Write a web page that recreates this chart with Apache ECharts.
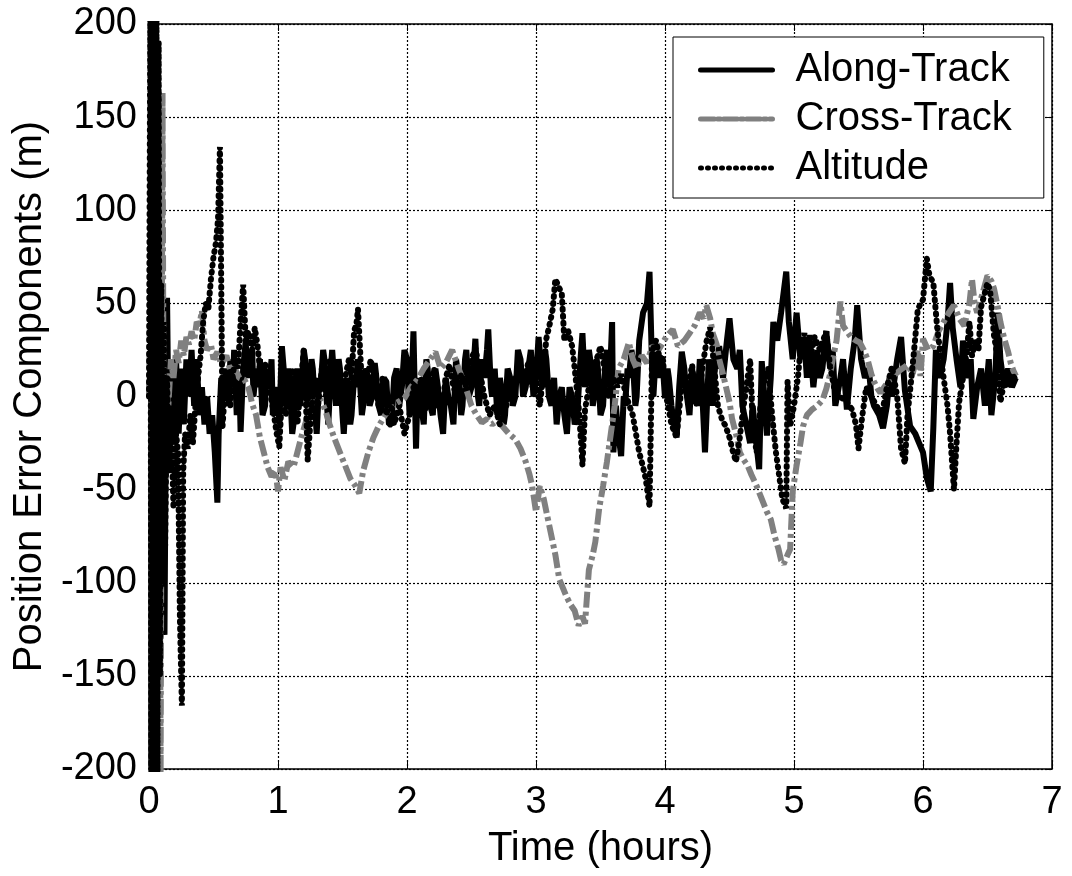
<!DOCTYPE html>
<html>
<head>
<meta charset="utf-8">
<script src="https://cdn.jsdelivr.net/npm/echarts@6/dist/echarts.min.js"></script>
<style>
html,body{margin:0;padding:0;background:#fff;}
#chart{width:1072px;height:876px;}
</style>
</head>
<body>
<div id="chart"></div>
<script>
// ---- Data (time in hours, error in metres) ----
var seriesNames = ['Along-Track', 'Cross-Track', 'Altitude'];
var xTicks = [0, 1, 2, 3, 4, 5, 6, 7];
var yTicks = [-200, -150, -100, -50, 0, 50, 100, 150, 200];

var alongTrack = [
[0.00,0],[0.02,30],[0.04,-60],[0.06,20],[0.08,-100],[0.10,-125],[0.11,-80],[0.12,-128],[0.13,-20],[0.14,53],[0.15,-10],[0.16,-30],[0.18,10],[0.19,-25],[0.21,20],[0.23,-20],[0.25,15],[0.27,-15],[0.29,20],[0.31,0],[0.33,25],[0.35,-5],[0.37,20],[0.39,-10],[0.41,5],[0.43,-15],[0.45,0],[0.47,-20],[0.49,-10],[0.51,-30],[0.53,-57],[0.54,-20],[0.56,10],[0.58,0],
[0.60,15],[0.62,-5],[0.63,20],[0.65,5],[0.66,25],[0.68,-10],[0.70,10],[0.71,-19],[0.73,15],[0.75,30],[0.76,10],[0.78,20],[0.80,25],[0.81,0],[0.83,15],[0.85,5],[0.86,20],[0.88,-10],[0.90,-5],[0.91,15],[0.93,5],[0.95,20],[0.96,-10],[0.98,0],[1.00,5],[1.01,-15],[1.03,27],[1.05,10],[1.06,-5],[1.08,15],[1.09,10],[1.11,-20],[1.12,-15],[1.14,10],[1.15,15],[1.17,-5],[1.18,0],[1.20,25],[1.21,20],[1.23,-5],[1.24,-10],[1.26,20],[1.27,15],[1.29,-10],[1.30,-20],[1.32,10],[1.33,5],[1.35,25],[1.36,20],[1.38,-5],[1.39,-15],[1.41,15],[1.42,25],[1.44,5],[1.45,-5],[1.47,20],[1.48,15],[1.50,-10],[1.51,-20],[1.53,5],[1.54,10],[1.56,-15],[1.57,-10],[1.59,10],[1.60,5],[1.62,20],[1.63,15],[1.65,-10],[1.66,-5],[1.68,15],[1.70,10],[1.71,-5],[1.73,0],[1.75,18],[1.76,12],[1.78,-5],[1.80,-10],[1.82,10],[1.84,8],[1.86,-15],[1.88,-15],[1.90,10],[1.92,15],[1.94,-5],[1.96,5],[1.98,25],[2.00,20],[2.02,-10],[2.03,-5],[2.05,35],[2.07,-28],[2.08,0],[2.10,10],[2.12,-10],[2.13,-15],[2.15,20],[2.16,15],[2.18,-5],[2.20,-10],[2.22,15],[2.24,5],[2.26,-10],[2.28,-20],[2.30,10],[2.32,0],[2.34,-5],[2.36,-15],[2.38,20],[2.40,10],[2.42,-10],[2.43,-5],[2.45,20],[2.46,25],[2.48,0],[2.50,5],[2.52,20],[2.53,31],[2.55,0],[2.56,-5],[2.58,20],[2.60,10],[2.62,25],[2.63,36],[2.65,5],[2.66,0],[2.68,15],[2.70,-10],[2.72,10],[2.73,5],[2.75,-15],[2.76,-10],[2.78,15],[2.80,10],[2.82,-5],[2.84,0],[2.86,25],[2.88,20],[2.90,0],[2.92,5],[2.94,15],[2.96,25],[2.98,0],[3.00,10],
[3.02,32],[3.04,15],[3.05,5],[3.07,25],[3.08,20],[3.10,0],[3.12,-5],[3.14,10],[3.16,-15],[3.18,0],[3.20,5],[3.22,-10],[3.24,-20],[3.26,5],[3.28,0],[3.30,-15],[3.32,-10],[3.34,15],[3.36,34],[3.38,5],[3.39,10],[3.41,25],[3.42,20],[3.44,-5],[3.45,0],[3.47,20],[3.48,15],[3.50,-10],[3.52,-5],[3.54,20],[3.55,25],[3.57,5],[3.59,40],[3.60,-30],[3.62,-5],[3.63,-15],[3.66,-32],[3.68,0],[3.69,-5],[3.71,15],[3.72,10],[3.74,25],[3.75,20],[3.77,-5],[3.78,0],[3.80,30],[3.83,45],[3.86,50],[3.88,67],[3.90,15],[3.91,0],[3.93,24],[3.96,10],[3.98,20],[4.00,-1],[4.02,15],[4.03,10],[4.05,-5],[4.06,-10],[4.09,-22],[4.11,5],[4.13,24],[4.15,15],[4.16,5],[4.18,-5],[4.19,-10],[4.21,15],[4.22,10],[4.24,0],[4.25,-5],[4.27,20],[4.28,15],[4.31,-30],[4.34,20],[4.36,5],[4.37,-5],[4.39,20],[4.40,15],[4.42,27],[4.45,10],[4.48,30],[4.50,42],[4.53,20],[4.56,15],[4.58,25],[4.60,-5],[4.63,-15],[4.66,-25],[4.68,-5],[4.70,-20],[4.73,-39],[4.75,19],[4.77,0],[4.79,-21],[4.82,10],[4.84,40],[4.87,30],[4.90,45],[4.94,67],[4.96,40],[4.99,20],[5.02,45],[5.05,20],[5.08,30],[5.10,10],[5.12,33],[5.15,5],[5.18,25],[5.20,10],[5.22,15],[5.25,35],[5.28,15],[5.30,25],[5.32,-5],[5.36,10],[5.38,20],[5.41,-7],[5.44,15],[5.47,30],[5.49,49],[5.52,20],[5.55,10],[5.58,15],[5.60,0],[5.62,-5],[5.66,-10],[5.69,-17],[5.72,-5],[5.74,10],[5.76,0],[5.80,20],[5.83,32],[5.86,3],[5.90,-16],[5.94,-20],[5.97,-25],[6.00,-30],[6.03,-44],[6.06,-51],[6.08,-17],[6.10,25],[6.13,10],[6.16,20],[6.19,40],[6.21,61],[6.23,37],[6.26,20],[6.29,5],[6.31,30],[6.34,10],[6.37,20],[6.39,-12],[6.42,5],[6.45,15],[6.48,-5],[6.51,20],[6.53,-10],[6.56,10],[6.58,45],[6.60,20],[6.63,5],[6.66,15],[6.69,5],[6.72,10]
];

var crossTrack = [
[0.00,0],[0.02,120],[0.03,-205],[0.045,150],[0.06,-205],[0.075,140],[0.09,-205],[0.105,163],[0.115,-60],[0.13,10],[0.15,-5],[0.17,20],[0.19,10],[0.21,25],[0.23,18],[0.25,30],[0.27,22],[0.29,32],[0.31,28],[0.33,35],[0.35,30],[0.37,40],[0.39,38],[0.41,46],[0.43,30],[0.45,25],[0.48,28],[0.50,20],[0.53,24],[0.56,17],[0.60,22],[0.63,14],[0.66,16],[0.70,10],[0.74,9],[0.77,5],[0.80,-4],[0.83,-10],[0.86,-22],[0.89,-30],[0.92,-38],[0.95,-43],[0.98,-40],[1.00,-51],[1.02,-38],[1.05,-45],[1.08,-35],[1.12,-38],[1.15,-30],[1.18,-22],[1.21,-15],[1.25,-5],[1.28,-2],[1.31,0],[1.34,-3],[1.37,-8],[1.40,-15],[1.44,-23],[1.48,-30],[1.52,-37],[1.56,-44],[1.60,-48],[1.63,-52],[1.66,-40],[1.70,-30],[1.74,-22],[1.78,-16],[1.83,-10],[1.88,-5],[1.93,-3],[1.98,-1],[2.03,5],[2.08,9],[2.13,15],[2.18,20],[2.22,24],[2.26,15],[2.30,18],[2.35,25],[2.40,15],[2.45,6],[2.50,-5],[2.54,-10],[2.58,-14],[2.62,-12],[2.66,-15],[2.70,-13],[2.74,-16],[2.79,-20],[2.84,-23],[2.88,-28],[2.92,-35],[2.95,-42],[2.97,-48],[3.00,-62],[3.03,-48],[3.06,-55],[3.09,-65],[3.12,-75],[3.15,-85],[3.18,-98],[3.21,-103],[3.24,-108],[3.27,-112],[3.30,-115],[3.33,-123],[3.36,-118],[3.38,-122],[3.41,-93],[3.44,-85],[3.46,-78],[3.49,-60],[3.52,-48],[3.55,-35],[3.58,-20],[3.61,-5],[3.64,15],[3.68,20],[3.72,29],[3.75,20],[3.78,15],[3.82,22],[3.86,18],[3.90,27],[3.95,25],[4.01,32],[4.06,36],[4.10,27],[4.15,30],[4.19,34],[4.23,38],[4.27,45],[4.30,42],[4.32,49],[4.35,42],[4.37,34],[4.40,28],[4.42,20],[4.45,12],[4.47,6],[4.50,-3],[4.52,-12],[4.55,-20],[4.58,-30],[4.61,-34],[4.64,-37],[4.67,-42],[4.71,-48],[4.75,-55],[4.79,-62],[4.82,-66],[4.85,-75],[4.88,-82],[4.90,-88],[4.92,-90],[4.95,-85],[4.97,-82],[4.99,-51],[5.02,-37],[5.05,-25],[5.07,-16],[5.10,-10],[5.14,-7],[5.18,-5],[5.22,-2],[5.25,4],[5.28,12],[5.30,20],[5.33,30],[5.36,51],[5.38,38],[5.41,35],[5.44,32],[5.48,30],[5.51,29],[5.54,25],[5.57,20],[5.60,12],[5.62,8],[5.65,4],[5.67,2],[5.71,6],[5.74,9],[5.77,11],[5.82,14],[5.88,17],[5.92,12],[5.96,25],[5.98,11],[6.00,31],[6.04,25],[6.08,27],[6.12,35],[6.16,40],[6.20,45],[6.24,49],[6.28,42],[6.32,38],[6.36,50],[6.38,63],[6.40,50],[6.42,45],[6.46,55],[6.50,65],[6.53,62],[6.55,58],[6.58,48],[6.60,40],[6.63,31],[6.66,24],[6.68,18],[6.70,14],[6.72,11]
];

var altitude = [
[0.00,0],[0.01,210],[0.018,-210],[0.026,210],[0.034,-210],[0.042,210],[0.05,-210],[0.058,210],[0.066,-205],[0.075,190],[0.085,-150],[0.095,60],[0.105,-100],[0.115,40],[0.125,-80],[0.14,10],[0.155,-40],[0.17,-10],[0.19,-60],[0.21,-20],[0.225,-30],[0.24,-120],[0.255,-166],[0.265,-40],[0.28,-20],[0.30,-28],[0.32,-10],[0.34,-25],[0.36,-5],[0.38,10],[0.40,22],[0.42,40],[0.44,50],[0.46,47],[0.48,63],[0.50,75],[0.52,83],[0.535,95],[0.55,134],[0.56,60],[0.57,-16],[0.59,5],[0.61,10],[0.63,-5],[0.65,12],[0.67,20],[0.69,15],[0.71,40],[0.73,60],[0.75,30],[0.77,35],[0.80,25],[0.82,37],[0.84,28],[0.86,15],[0.88,10],[0.90,18],[0.93,5],[0.96,-6],[0.99,-20],[1.01,-27],[1.03,0],[1.06,-10],[1.09,5],[1.12,15],[1.15,-15],[1.18,10],[1.20,25],[1.22,-10],[1.23,-34],[1.25,-15],[1.28,10],[1.31,-5],[1.34,15],[1.37,0],[1.40,20],[1.43,5],[1.46,15],[1.49,-5],[1.52,10],[1.55,20],[1.57,10],[1.59,35],[1.61,40],[1.62,47],[1.64,20],[1.66,-5],[1.69,10],[1.72,20],[1.75,5],[1.78,-5],[1.81,10],[1.84,-10],[1.87,0],[1.90,-15],[1.94,-5],[1.98,-20],[2.02,-10],[2.05,5],[2.08,-5],[2.11,10],[2.14,-8],[2.18,5],[2.21,15],[2.24,-5],[2.27,-7],[2.30,10],[2.33,17],[2.36,5],[2.39,0],[2.42,12],[2.46,5],[2.50,20],[2.53,26],[2.56,15],[2.60,0],[2.64,-10],[2.68,-5],[2.72,-15],[2.75,-10],[2.79,0],[2.83,8],[2.87,15],[2.91,10],[2.94,18],[2.97,5],[3.00,10],[3.03,-5],[3.06,15],[3.08,31],[3.11,40],[3.13,47],[3.15,63],[3.17,60],[3.20,55],[3.22,30],[3.25,35],[3.28,27],[3.30,15],[3.33,-5],[3.35,-25],[3.36,-37],[3.38,-7],[3.41,5],[3.45,17],[3.48,22],[3.50,27],[3.53,15],[3.56,0],[3.60,10],[3.63,5],[3.66,12],[3.70,0],[3.75,-10],[3.80,-30],[3.83,-38],[3.85,-44],[3.88,-59],[3.90,24],[3.93,30],[3.96,20],[3.98,22],[4.01,0],[4.05,-15],[4.09,-22],[4.12,0],[4.15,12],[4.18,5],[4.21,17],[4.24,-5],[4.27,5],[4.30,20],[4.32,29],[4.35,37],[4.38,17],[4.41,-5],[4.44,-12],[4.47,-16],[4.50,-22],[4.52,-28],[4.55,-35],[4.58,-22],[4.60,-10],[4.63,5],[4.66,20],[4.68,-15],[4.71,-30],[4.74,-5],[4.77,10],[4.80,15],[4.83,-10],[4.86,-30],[4.89,-45],[4.91,-55],[4.94,-60],[4.95,8],[4.97,-16],[5.00,-5],[5.03,10],[5.05,25],[5.08,34],[5.11,20],[5.14,25],[5.16,32],[5.20,25],[5.25,35],[5.28,16],[5.31,5],[5.35,0],[5.40,-2],[5.45,-7],[5.48,-15],[5.50,-28],[5.53,-10],[5.56,5],[5.60,0],[5.64,-5],[5.68,-10],[5.72,5],[5.76,16],[5.80,0],[5.83,-28],[5.86,-36],[5.88,-10],[5.91,10],[5.93,24],[5.96,47],[6.00,52],[6.03,74],[6.05,65],[6.08,61],[6.11,37],[6.14,20],[6.17,5],[6.19,-5],[6.21,-20],[6.24,-50],[6.26,-25],[6.28,-3],[6.31,10],[6.34,24],[6.36,40],[6.38,22],[6.41,30],[6.43,25],[6.45,48],[6.50,61],[6.52,57],[6.55,33],[6.58,20],[6.60,-3],[6.63,8],[6.66,5],[6.69,12],[6.71,10]
];

// ---- Styles ----
var FONT = '"Liberation Sans", Arial, Helvetica, sans-serif';
var styles = [
  {color: '#000', width: 6, type: 'solid', cap: 'butt'},
  {color: '#808080', width: 6, type: [16, 4, 4, 4], cap: 'butt'},
  {color: '#000', width: 6, type: [1, 6], cap: 'round'}
];
var legendStyles = [
  {color: '#000', width: 5, type: 'solid', cap: 'round'},
  {color: '#808080', width: 5, type: [14, 3, 3, 3], cap: 'round'},
  {color: '#000', width: 5, type: [1, 6], cap: 'round'}
];

var chart = echarts.init(document.getElementById('chart'), null, {renderer: 'canvas'});

var gridLine = {show: true, lineStyle: {color: '#000', width: 1.2, type: [2, 2]}};
var axisLine = {show: true, onZero: false, lineStyle: {color: '#000', width: 1.5}};
var tick = {show: true, inside: true, length: 7, lineStyle: {color: '#000', width: 1}};

var option = {
  backgroundColor: '#fff',
  animation: false,
  grid: {left: 149, right: 20, top: 24, bottom: 107, containLabel: false, outerBoundsMode: 'none'},
  legend: {
    orient: 'vertical',
    left: 673, top: 37,
    padding: [13, 32, 10, 25],
    itemWidth: 72, itemHeight: 14, itemGap: 9,
    backgroundColor: '#fff',
    borderColor: '#000', borderWidth: 1,
    itemStyle: {opacity: 0, color: 'rgba(0,0,0,0)', borderWidth: 0},
    textStyle: {fontFamily: FONT, fontSize: 40, color: '#000', lineHeight: 40, padding: [0, 0, 0, 18]},
    data: seriesNames.map(function (n, i) { return {name: n, lineStyle: legendStyles[i]}; })
  },
  xAxis: [{
    type: 'value', min: xTicks[0], max: xTicks[xTicks.length - 1], interval: 1,
    name: 'Time (hours)', nameLocation: 'middle', nameGap: 60,
    nameTextStyle: {fontFamily: FONT, fontSize: 40, color: '#000'},
    axisLine: axisLine, axisTick: tick, splitLine: gridLine,
    axisLabel: {fontFamily: FONT, fontSize: 38, color: '#000', margin: 15}
  }, {
    type: 'value', position: 'top', min: xTicks[0], max: xTicks[xTicks.length - 1], interval: 1,
    axisLine: axisLine, axisTick: tick, splitLine: {show: false}, axisLabel: {show: false}
  }],
  yAxis: [{
    type: 'value', min: yTicks[0], max: yTicks[yTicks.length - 1], interval: 50,
    name: 'Position Error Components (m)', nameLocation: 'middle', nameGap: 97, nameRotate: 90,
    nameTextStyle: {fontFamily: FONT, fontSize: 40, color: '#000'},
    axisLine: axisLine, axisTick: tick, splitLine: gridLine,
    axisLabel: {fontFamily: FONT, fontSize: 38, color: '#000', margin: 12}
  }, {
    type: 'value', position: 'right', min: yTicks[0], max: yTicks[yTicks.length - 1], interval: 50,
    axisLine: axisLine, axisTick: tick, splitLine: {show: false}, axisLabel: {show: false}
  }],
  series: [alongTrack, crossTrack, altitude].map(function (d, i) {
    return {
      name: seriesNames[i], type: 'line', data: d, symbol: 'none', showSymbol: false, clip: true,
      lineStyle: styles[i], itemStyle: {color: styles[i].color}
    };
  })
};
chart.setOption(option);
</script>
</body>
</html>
